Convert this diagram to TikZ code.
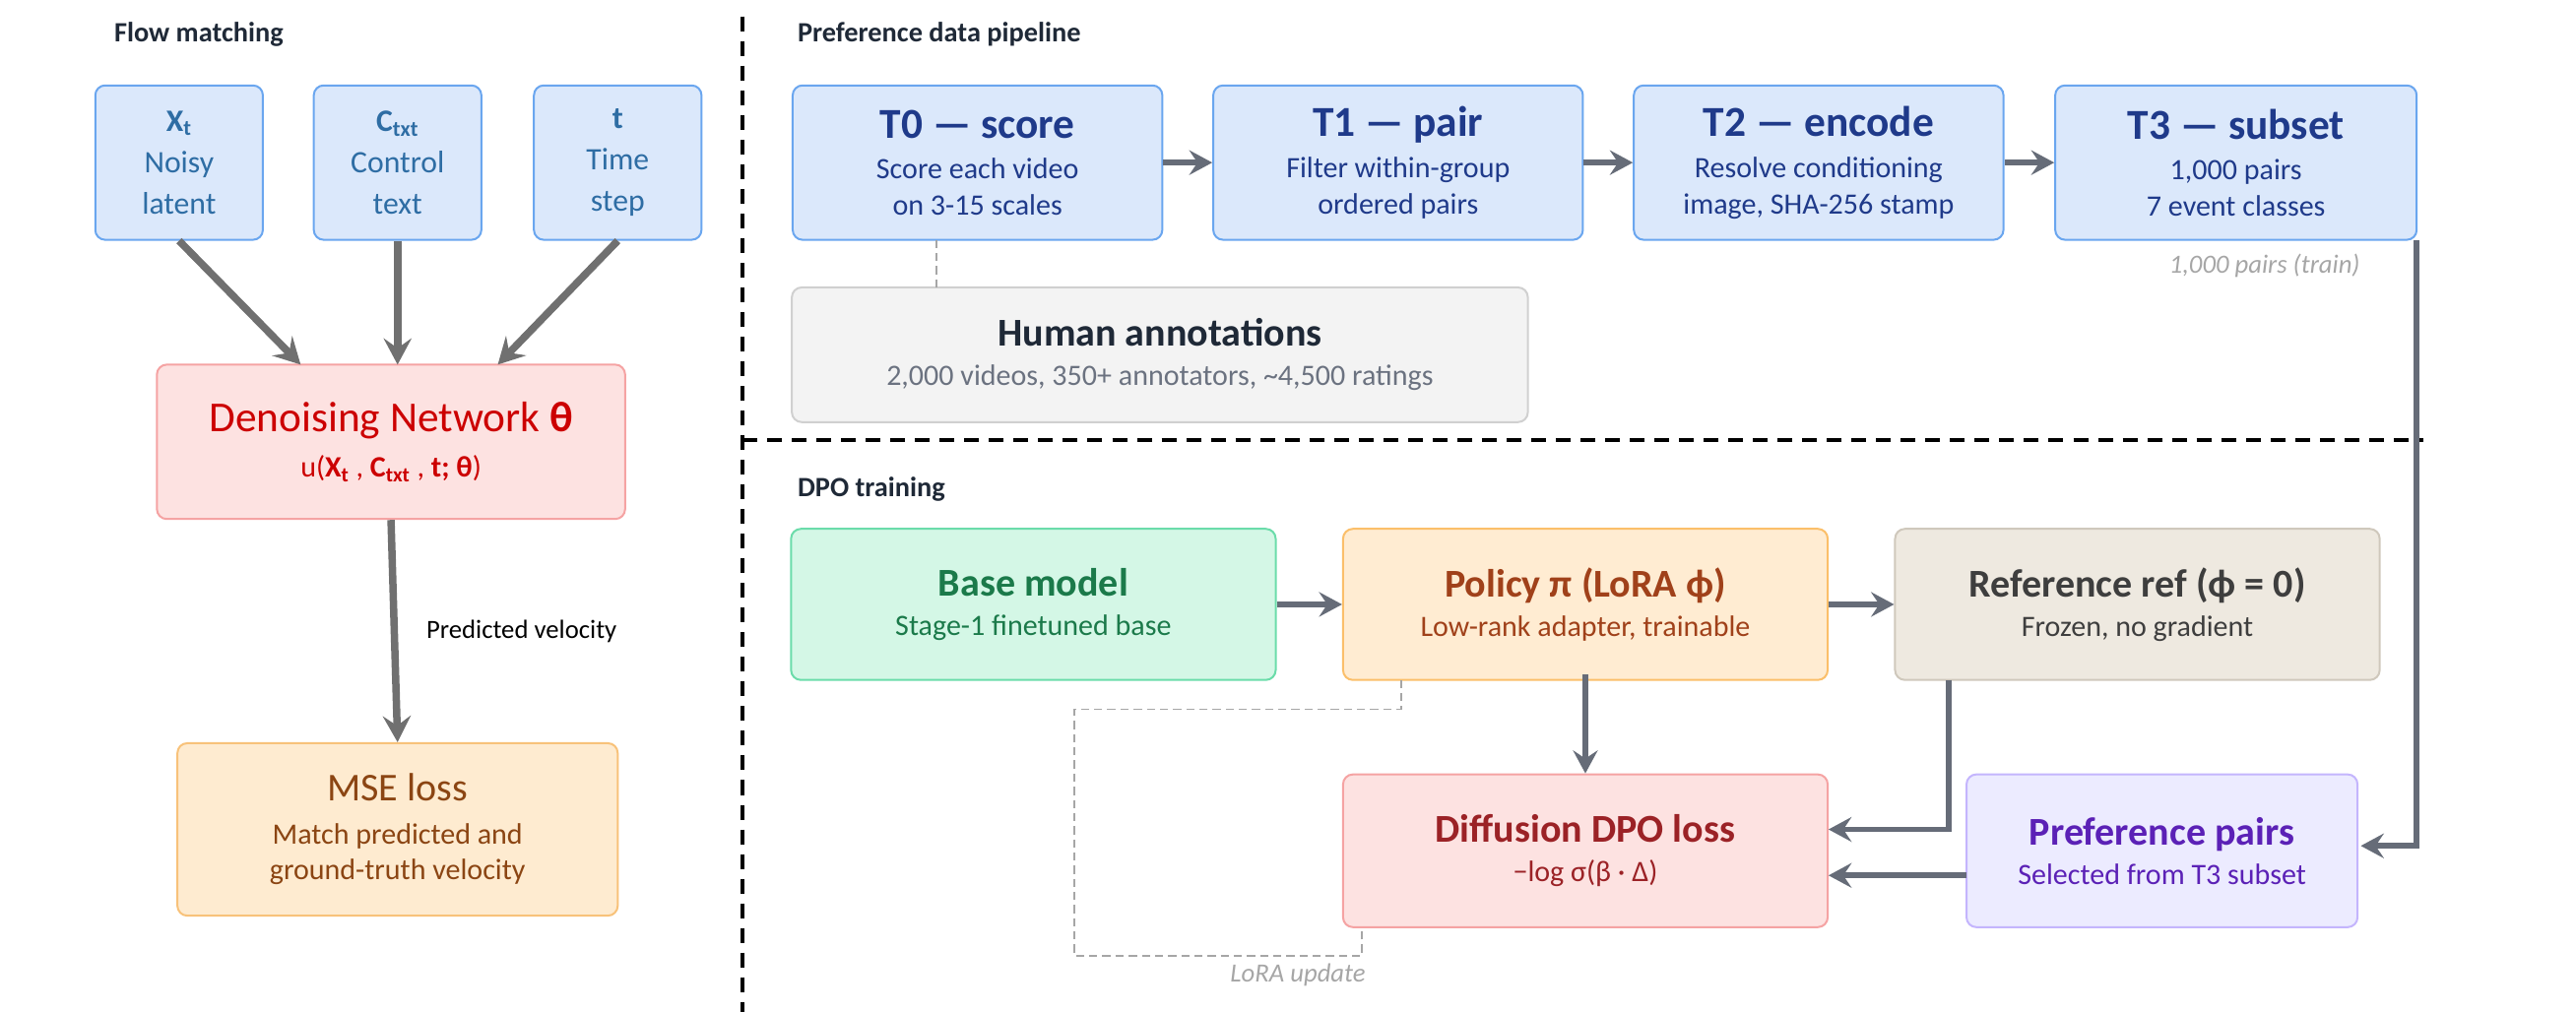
\documentclass[tikz,border=0pt]{standalone}
\usepackage{fontspec}
\setmainfont{Carlito}
\usetikzlibrary{arrows.meta}
\definecolor{bluefill}{HTML}{DBE8FB}\definecolor{blueline}{HTML}{6AA6EF}\definecolor{bluetext}{HTML}{2E6DA4}
\definecolor{navy}{HTML}{1F3A8A}
\definecolor{redfill}{HTML}{FDE2E1}\definecolor{redline}{HTML}{F5A3A3}
\definecolor{orfill}{HTML}{FEEBD0}\definecolor{orline}{HTML}{F8C27A}\definecolor{msebrown}{HTML}{8B4513}
\definecolor{grfill}{HTML}{F3F3F3}\definecolor{grline}{HTML}{D0D0D0}\definecolor{dark}{HTML}{1F2937}\definecolor{midgray}{HTML}{6B7280}
\definecolor{gnfill}{HTML}{D4F7E6}\definecolor{gnline}{HTML}{6BDCAA}\definecolor{gntext}{HTML}{1B7A4A}
\definecolor{polfill}{HTML}{FFECD2}\definecolor{polline}{HTML}{FBBF6A}\definecolor{poltext}{HTML}{A0411A}
\definecolor{reffill}{HTML}{EEE9E0}\definecolor{refline}{HTML}{CFC8BC}\definecolor{reftext}{HTML}{3E3E3E}
\definecolor{dpotext}{HTML}{9B2226}
\definecolor{pfill}{HTML}{ECEBFF}\definecolor{pline}{HTML}{C4B5FD}\definecolor{ptext}{HTML}{5B21B6}
\definecolor{arrL}{HTML}{707070}\definecolor{arrR}{HTML}{666C78}
\begin{document}
\begin{tikzpicture}[x=1pt,y=-1pt,
  box/.style={draw, line width=1.2pt, rounded corners=6pt, align=center, inner sep=0pt},
  hdr/.style={font=\fontsize{17}{20}\selectfont\bfseries, text=dark, anchor=west},
  arL/.style={draw=arrL, line width=4.5pt, -{Stealth[length=16pt,width=17pt,inset=6pt]}},
  arR/.style={draw=arrR, line width=3.5pt, -{Stealth[length=14pt,width=15pt,inset=5pt]}},
  dsh/.style={draw=gray!70, line width=0.9pt, dash pattern=on 5pt off 3pt},
  sep/.style={draw=black, line width=2pt, dash pattern=on 9pt off 6pt}]
\useasboundingbox (0,0) rectangle (1568,616);
% separators
\draw[sep] (452,10) -- (452,616);
\draw[sep] (452,268) -- (1475,268);
% LEFT
\node[hdr] (h1) at (66,21) {Flow matching};
\tikzset{inb/.style={box, draw=blueline, fill=bluefill, text=bluetext, minimum width=102pt, minimum height=94pt, font=\fontsize{19}{25}\selectfont}}
\node[inb] (xt) at (109,99) {\textbf{X\textsubscript{t}}\\Noisy\\latent};
\node[inb] (ct) at (242,99) {\textbf{C\textsubscript{txt}}\\Control\\text};
\node[inb] (tt) at (376,99) {\textbf{t}\\Time\\step};
\node[box, draw=redline, fill=redfill, text=red!80!black, minimum width=285pt, minimum height=94pt, font=\fontsize{18}{20}\selectfont] (dn) at (238,269)
 {{\fontsize{26}{30}\selectfont Denoising Network \textbf{θ}}\\[8pt]u(\textbf{X\textsubscript{t}} , \textbf{C\textsubscript{txt}} , \textbf{t; θ})};
\node[box, draw=orline, fill=orfill, text=msebrown, minimum width=268pt, minimum height=105pt, font=\fontsize{18}{22}\selectfont] (mse) at (242,505)
 {{\fontsize{24}{28}\selectfont MSE loss}\\[4pt]Match predicted and\\ground-truth velocity};
\draw[arL] (xt.south) -- (183,222);
\draw[arL] (ct.south) -- (242,222);
\draw[arL] (tt.south) -- (303,222);
\draw[arL] (dn.south) -- node[right=14pt, text=black, font=\fontsize{16}{18}\selectfont]{Predicted velocity} (mse.north);
% PIPELINE
\node[hdr] (h2) at (482,21) {Preference data pipeline};
\tikzset{tb/.style={box, draw=blueline, fill=bluefill, text=navy, minimum width=225pt, minimum height=94pt, font=\fontsize{18}{22}\selectfont}}
\node[tb] (t0) at (595,99) {{\fontsize{26}{30}\selectfont\bfseries T0 — score}\\[3pt]Score each video\\on 3-15 scales};
\node[tb] (t1) at (851,99) {{\fontsize{26}{30}\selectfont\bfseries T1 — pair}\\[3pt]Filter within-group\\ordered pairs};
\node[tb] (t2) at (1107,99) {{\fontsize{26}{30}\selectfont\bfseries T2 — encode}\\[3pt]Resolve conditioning\\image, SHA-256 stamp};
\node[tb, minimum width=220pt] (t3) at (1361,99) {{\fontsize{26}{30}\selectfont\bfseries T3 — subset}\\[3pt]1,000 pairs\\7 event classes};
\draw[arR] (t0) -- (t1);
\draw[arR] (t1) -- (t2);
\draw[arR] (t2) -- (t3);
\node[box, draw=grline, fill=grfill, minimum width=448pt, minimum height=82pt, font=\fontsize{18}{20}\selectfont] (ha) at (706,216)
 {{\fontsize{24}{28}\selectfont\bfseries\color{dark}Human annotations}\\[4pt]{\color{midgray}2,000 videos, 350+ annotators, \textasciitilde4,500 ratings}};
\draw[dsh] (570,146) -- (570,175);
\node[anchor=east, text=gray!70, font=\fontsize{16}{18}\selectfont\itshape] (trn) at (1440,162) {1,000 pairs (train)};
% DPO
\node[hdr] (h3) at (482,298) {DPO training};
\tikzset{db/.style={box, minimum width=295pt, minimum height=92pt, font=\fontsize{18}{20}\selectfont}}
\node[db, draw=gnline, fill=gnfill, text=gntext] (bm) at (629,368)
 {{\fontsize{24}{28}\selectfont\bfseries Base model}\\[4pt]Stage-1 finetuned base};
\node[db, draw=polline, fill=polfill, text=poltext] (pol) at (965,368)
 {{\fontsize{24}{28}\selectfont\bfseries Policy π (LoRA ϕ)}\\[4pt]Low-rank adapter, trainable};
\node[db, draw=refline, fill=reffill, text=reftext] (ref) at (1301,368)
 {{\fontsize{24}{28}\selectfont\bfseries Reference ref (ϕ = 0)}\\[4pt]Frozen, no gradient};
\node[db, draw=redline, fill=redfill, text=dpotext, minimum height=93pt] (dpo) at (965,518)
 {{\fontsize{24}{28}\selectfont\bfseries Diffusion DPO loss}\\[4pt]−log σ(β · Δ)};
\node[box, draw=pline, fill=pfill, text=ptext, minimum width=238pt, minimum height=93pt, font=\fontsize{18}{20}\selectfont] (pp) at (1316,518)
 {{\fontsize{24}{28}\selectfont\bfseries Preference pairs}\\[4pt]Selected from T3 subset};
\draw[arR] (bm) -- (pol);
\draw[arR] (pol) -- (ref);
\draw[arR] ([yshift=4pt]pol.south) -- (dpo.north);
\draw[arR] (1186,414) |- (1113,505);
\draw[arR] (1197,533) -- (1113,533);
\draw[arR] (1471,146) |- (1437,515);
\coordinate (lu) at (654,432);
\draw[dsh] (853,414) -- (853,432) -- (lu) -- (654,582) -- (829,582) -- (829,565);
\node[anchor=north, text=gray!70, font=\fontsize{16}{18}\selectfont\itshape] (lut) at (790,583) {LoRA update};
\end{tikzpicture}
\end{document}
